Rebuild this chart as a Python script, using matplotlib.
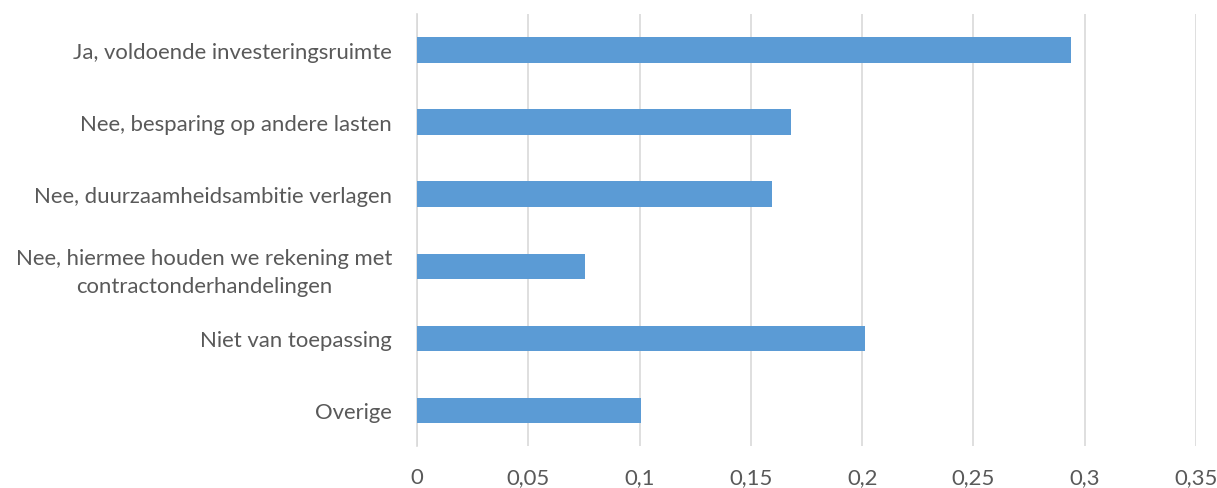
import matplotlib.pyplot as plt
from matplotlib.ticker import FuncFormatter

plt.rcParams['font.family'] = ['Lato', 'DejaVu Sans']

categories = [
    'Ja, voldoende investeringsruimte',
    'Nee, besparing op andere lasten',
    'Nee, duurzaamheidsambitie verlagen',
    'Nee, hiermee houden we rekening met\ncontractonderhandelingen',
    'Niet van toepassing',
    'Overige',
]
values = [0.294, 0.168, 0.1595, 0.0755, 0.2013, 0.1006]
xticks = [0, 0.05, 0.1, 0.15, 0.2, 0.25, 0.3, 0.35]

fig = plt.figure(figsize=(12.17, 4.89), dpi=100)
ax = fig.add_axes([0.3427, 0.085, 0.6400, 0.884])

ypos = list(range(len(categories)))
ax.barh(ypos, values, height=0.355, color='#5B9BD5', zorder=3)
ax.set_ylim(len(categories) - 0.5, -0.5)
ax.set_yticks(ypos)
ax.set_yticklabels(categories, fontsize=15.9, color='#595959', linespacing=1.45)
ax.set_xlim(0, 0.35)
ax.set_xticks(xticks)
ax.xaxis.set_major_formatter(FuncFormatter(lambda v, p: ('%g' % round(v, 2)).replace('.', ',')))
ax.tick_params(axis='x', labelsize=15.9, labelcolor='#595959', length=0, pad=15)
ax.tick_params(axis='y', length=0, pad=18)
for lbl in ax.get_yticklabels():
    lbl.set_horizontalalignment('right')
    lbl.set_multialignment('center')

ax.grid(axis='x', color='#D9D9D9', linewidth=1.2, zorder=0)
for s in ['top', 'right', 'bottom']:
    ax.spines[s].set_visible(False)
ax.spines['left'].set_color('#D9D9D9')
ax.spines['left'].set_linewidth(1.2)

fig.savefig('out.png', dpi=100)
